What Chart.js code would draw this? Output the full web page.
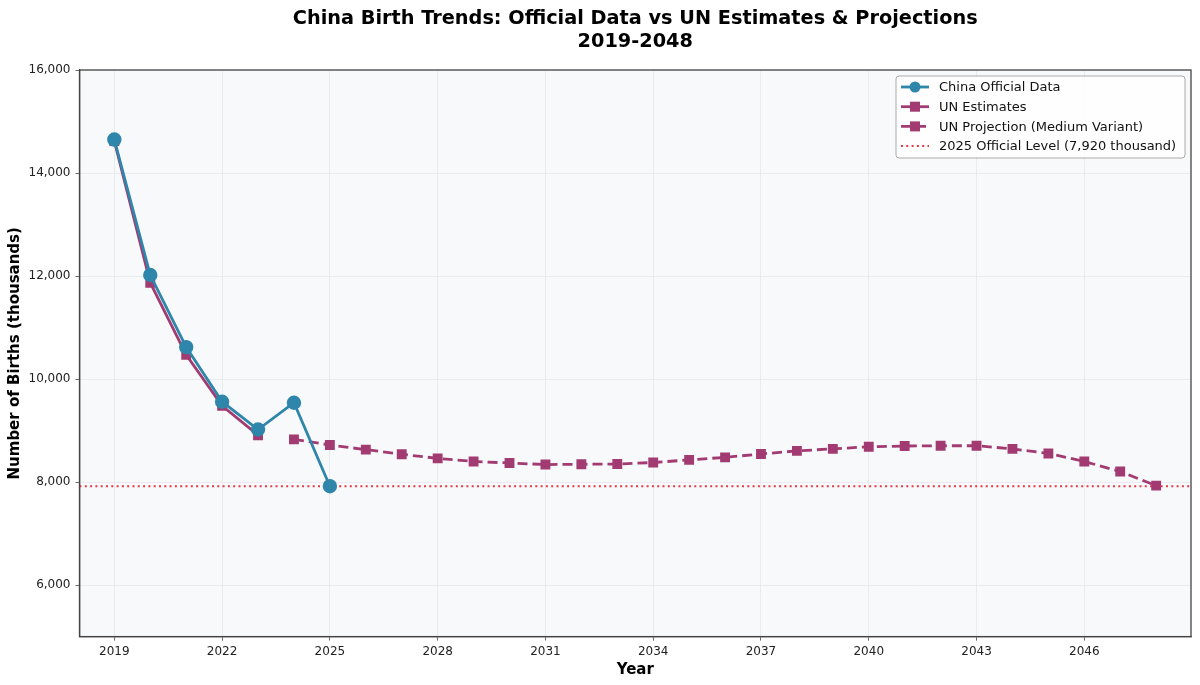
<!DOCTYPE html>
<html>
<head>
<meta charset="utf-8">
<script src="https://cdn.jsdelivr.net/npm/chart.js@4.4.1/dist/chart.umd.min.js"></script>
<style>
  html, body { margin: 0; padding: 0; background: #fff; }
  #wrap { width: 1200px; height: 685px; }
</style>
</head>
<body>
<div id="wrap"><canvas id="births"></canvas></div>
<script>
const officialYears = [2019, 2020, 2021, 2022, 2023, 2024, 2025];
const officialBirths = [14650, 12020, 10620, 9560, 9020, 9540, 7920];

const unEstYears = [2019, 2020, 2021, 2022, 2023];
const unEstBirths = [14620, 11870, 10470, 9480, 8910];

const projYears = [2024, 2025, 2026, 2027, 2028, 2029, 2030, 2031, 2032, 2033,
  2034, 2035, 2036, 2037, 2038, 2039, 2040, 2041, 2042, 2043,
  2044, 2045, 2046, 2047, 2048];
const projBirths = [8830, 8720, 8630, 8540, 8460, 8400, 8370, 8340, 8345, 8350,
  8380, 8430, 8480, 8545, 8605, 8645, 8685, 8700, 8705, 8705,
  8645, 8555, 8400, 8205, 7930];

const officialLevel = 7920;
const xTicks = [2019, 2022, 2025, 2028, 2031, 2034, 2037, 2040, 2043, 2046];
const yTicks = [6000, 8000, 10000, 12000, 14000, 16000];
const xMin = 2018.03, xMax = 2048.97;

const BLUE = '#2E86AB';
const PURPLE = '#A23B72';
const RED = '#E63946';
const AXIS = '#444';
const FONT = '"DejaVu Sans", sans-serif';

function pts(xs, ys) {
  return xs.map((x, i) => ({ x: x, y: ys[i] }));
}

// plot background + title + legend drawn by hand
const extras = {
  id: 'extras',
  beforeDraw(chart) {
    const { ctx, chartArea: a } = chart;
    ctx.save();
    ctx.fillStyle = '#f8f9fa';
    ctx.fillRect(a.left, a.top, a.right - a.left, a.bottom - a.top);
    ctx.restore();
  },
  afterDraw(chart) {
    const { ctx, chartArea: a } = chart;
    ctx.save();
    // frame
    ctx.strokeStyle = AXIS;
    ctx.lineWidth = 1.3;
    ctx.strokeRect(a.left, a.top, a.right - a.left, a.bottom - a.top);

    // title
    const cx = (a.left + a.right) / 2;
    ctx.fillStyle = '#000';
    ctx.font = 'bold 19.3px ' + FONT;
    ctx.textAlign = 'center';
    ctx.textBaseline = 'middle';
    ctx.fillText('China Birth Trends: Official Data vs UN Estimates & Projections', cx, 18.5);
    ctx.fillText('2019-2048', cx, 41.5);

    // legend
    const bx = 896, by = 76, bw = 289, bh = 82;
    ctx.fillStyle = 'rgba(255,255,255,0.85)';
    ctx.strokeStyle = '#aaa';
    ctx.lineWidth = 1;
    ctx.beginPath();
    ctx.roundRect(bx, by, bw, bh, 3);
    ctx.fill();
    ctx.stroke();

    ctx.font = '13px ' + FONT;
    ctx.textAlign = 'left';
    chart.data.datasets.forEach((ds, i) => {
      const y = by + 11 + i * 19.7;
      const x0 = bx + 5, x1 = bx + 33;
      ctx.strokeStyle = ds.borderColor;
      ctx.lineWidth = ds.borderWidth;
      ctx.setLineDash(ds.borderDash || []);
      ctx.beginPath();
      ctx.moveTo(x0, y);
      ctx.lineTo(x1, y);
      ctx.stroke();
      ctx.setLineDash([]);
      ctx.fillStyle = ds.pointBackgroundColor;
      const mx = (x0 + x1) / 2;
      if (ds.pointStyle === 'circle') {
        ctx.beginPath();
        ctx.arc(mx, y, 5.5, 0, Math.PI * 2);
        ctx.fill();
      } else if (ds.pointStyle === 'rect') {
        ctx.fillRect(mx - 5, y - 5, 10, 10);
      }
      ctx.fillStyle = '#111';
      ctx.fillText(ds.label, bx + 43, y + 1);
    });
    ctx.restore();
  }
};

new Chart(document.getElementById('births'), {
  type: 'line',
  data: {
    datasets: [
      {
        label: 'China Official Data',
        data: pts(officialYears, officialBirths),
        borderColor: BLUE,
        backgroundColor: BLUE,
        pointBackgroundColor: BLUE,
        pointBorderColor: BLUE,
        borderWidth: 2.8,
        pointStyle: 'circle',
        pointRadius: 5.8,
        tension: 0
      },
      {
        label: 'UN Estimates',
        data: pts(unEstYears, unEstBirths),
        borderColor: PURPLE,
        backgroundColor: PURPLE,
        pointBackgroundColor: PURPLE,
        pointBorderColor: PURPLE,
        borderWidth: 2.8,
        pointStyle: 'rect',
        pointRadius: 5,
        tension: 0
      },
      {
        label: 'UN Projection (Medium Variant)',
        data: pts(projYears, projBirths),
        borderColor: PURPLE,
        backgroundColor: PURPLE,
        pointBackgroundColor: PURPLE,
        pointBorderColor: PURPLE,
        borderWidth: 2.8,
        borderDash: [10, 5],
        pointStyle: 'rect',
        pointRadius: 5,
        tension: 0
      },
      {
        label: '2025 Official Level (7,920 thousand)',
        data: [{ x: xMin, y: officialLevel }, { x: xMax, y: officialLevel }],
        borderColor: RED,
        backgroundColor: RED,
        pointBackgroundColor: RED,
        borderWidth: 2,
        borderDash: [2, 3.3],
        pointStyle: false,
        pointRadius: 0,
        tension: 0
      }
    ]
  },
  options: {
    responsive: true,
    maintainAspectRatio: false,
    animation: false,
    layout: { padding: { top: 70, right: 9, left: 7.5, bottom: 3 } },
    plugins: {
      legend: { display: false },
      title: { display: false },
      tooltip: { enabled: false }
    },
    scales: {
      x: {
        type: 'linear',
        min: xMin,
        max: xMax,
        afterBuildTicks: s => { s.ticks = xTicks.map(v => ({ value: v })); },
        ticks: {
          callback: v => String(v),
          color: '#222',
          font: { family: FONT, size: 12 },
          padding: 4,
          maxRotation: 0
        },
        grid: { color: '#e5e7ea', lineWidth: 0.8, tickColor: AXIS, tickLength: 4 },
        border: { display: true, color: AXIS, width: 1.3 },
        title: {
          display: true,
          text: 'Year',
          color: '#000',
          font: { family: FONT, size: 15, weight: 'bold', lineHeight: 1 },
          padding: { top: 0, bottom: 4 }
        }
      },
      y: {
        min: 5000,
        max: 16000,
        afterBuildTicks: s => { s.ticks = yTicks.map(v => ({ value: v })); },
        ticks: {
          callback: v => v.toLocaleString('en-US'),
          color: '#222',
          font: { family: FONT, size: 12 },
          padding: 5
        },
        grid: { color: '#e5e7ea', lineWidth: 0.8, tickColor: AXIS, tickLength: 4 },
        border: { display: true, color: AXIS, width: 1.3 },
        title: {
          display: true,
          text: 'Number of Births (thousands)',
          color: '#000',
          font: { family: FONT, size: 15, weight: 'bold', lineHeight: 1 },
          padding: { top: 0, bottom: 1 }
        }
      }
    }
  },
  plugins: [extras]
});
</script>
</body>
</html>
